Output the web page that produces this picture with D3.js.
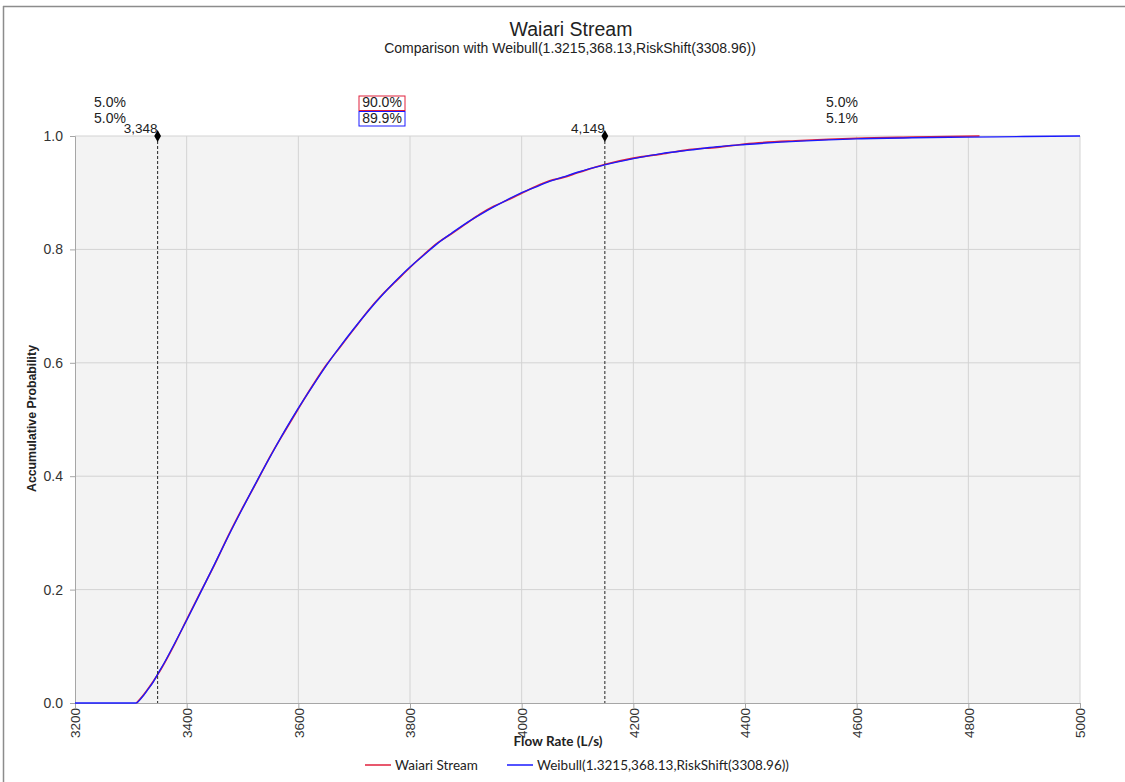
<!DOCTYPE html>
<html>
<head>
<meta charset="utf-8">
<script src="https://cdn.jsdelivr.net/npm/d3@7"></script>
<style>
  body { margin: 0; background: #fff; }
  svg text { font-family: "Liberation Sans", Arial, sans-serif; fill: #222; }
</style>
</head>
<body>
<div id="chart"></div>
<script>
// Flow rates (L/s) and cumulative probabilities
var fitFlow = [3200, 3309, 3320, 3330, 3340, 3350, 3360, 3380, 3400, 3425, 3450, 3475, 3500, 3525, 3550, 3575, 3600, 3625, 3650, 3675, 3700, 3725, 3750, 3775, 3800, 3825, 3850, 3875, 3900, 3925, 3950, 3975, 4000, 4025, 4050, 4075, 4100, 4149, 4200, 4250, 4300, 4350, 4400, 4500, 4600, 4700, 4800, 4900, 5000];
var fitProb = [0, 0, 0.010, 0.023, 0.037, 0.054, 0.071, 0.108, 0.146, 0.195, 0.245, 0.295, 0.343, 0.390, 0.435, 0.479, 0.520, 0.558, 0.595, 0.629, 0.661, 0.691, 0.719, 0.745, 0.769, 0.790, 0.811, 0.829, 0.846, 0.861, 0.875, 0.888, 0.900, 0.910, 0.920, 0.928, 0.936, 0.949, 0.960, 0.969, 0.975, 0.981, 0.985, 0.991, 0.995, 0.997, 0.998, 0.999, 1.0];

var streamFlow = [3310, 3320, 3330, 3340, 3350, 3360, 3380, 3400, 3425, 3450, 3475, 3500, 3525, 3550, 3575, 3600, 3625, 3650, 3675, 3700, 3725, 3750, 3775, 3800, 3825, 3850, 3875, 3900, 3925, 3950, 3975, 4000, 4025, 4050, 4075, 4100, 4150, 4200, 4250, 4300, 4350, 4400, 4500, 4600, 4700, 4760, 4820];
var streamProb = [0, 0.011, 0.024, 0.038, 0.053, 0.070, 0.107, 0.147, 0.196, 0.244, 0.296, 0.344, 0.389, 0.436, 0.478, 0.519, 0.559, 0.596, 0.628, 0.660, 0.692, 0.720, 0.744, 0.768, 0.791, 0.812, 0.828, 0.845, 0.862, 0.876, 0.887, 0.899, 0.911, 0.921, 0.927, 0.935, 0.950, 0.961, 0.968, 0.976, 0.980, 0.986, 0.992, 0.996, 0.998, 0.999, 1.0];

// percentile markers
var markerFlow = [3348, 4149];
var markerLabel = ["3,348", "4,149"];
var leftPct = ["5.0%", "5.0%"];
var midPct = ["90.0%", "89.9%"];
var rightPct = ["5.0%", "5.1%"];

var xTicks = [3200, 3400, 3600, 3800, 4000, 4200, 4400, 4600, 4800, 5000];
var yTicks = [0, 0.2, 0.4, 0.6, 0.8, 1.0];

var seriesNames = ["Waiari Stream", "Weibull(1.3215,368.13,RiskShift(3308.96))"];
var seriesColors = ["#e0203c", "#1a1aff"];

var width = 1125, height = 782;
var margin = { top: 136, right: 45, bottom: 79, left: 75 };
var plotW = width - margin.left - margin.right;
var plotH = height - margin.top - margin.bottom;

var svg = d3.select("#chart").append("svg")
    .attr("width", width)
    .attr("height", height);

// frame lines (top and left only)
svg.append("line").attr("x1", 3).attr("x2", width).attr("y1", 6.5).attr("y2", 6.5)
    .attr("stroke", "#8c8c8c").attr("stroke-width", 1.5);
svg.append("line").attr("x1", 3.5).attr("x2", 3.5).attr("y1", 6).attr("y2", height)
    .attr("stroke", "#8c8c8c").attr("stroke-width", 1.5);

// titles
svg.append("text").attr("x", 571).attr("y", 36).attr("text-anchor", "middle")
    .style("font-size", "19.5px").text("Waiari Stream");
svg.append("text").attr("x", 570).attr("y", 53).attr("text-anchor", "middle")
    .style("font-size", "14px").text("Comparison with Weibull(1.3215,368.13,RiskShift(3308.96))");

var x = d3.scaleLinear().domain([3200, 5000]).range([0, plotW]);
var y = d3.scaleLinear().domain([0, 1]).range([plotH, 0]);

var g = svg.append("g").attr("transform", "translate(" + margin.left + "," + margin.top + ")");

g.append("rect").attr("width", plotW).attr("height", plotH).attr("fill", "#f3f3f3");

// grid
g.selectAll(".vgrid").data(xTicks.slice(1)).enter().append("line")
    .attr("x1", function (d) { return x(d); }).attr("x2", function (d) { return x(d); })
    .attr("y1", 0).attr("y2", plotH)
    .attr("stroke", "#d3d3d3");
g.selectAll(".hgrid").data(yTicks.slice(1)).enter().append("line")
    .attr("x1", 0).attr("x2", plotW)
    .attr("y1", function (d) { return y(d); }).attr("y2", function (d) { return y(d); })
    .attr("stroke", "#d3d3d3");

// axes
var xAxis = g.append("g").attr("transform", "translate(0," + plotH + ")")
    .call(d3.axisBottom(x).tickValues(xTicks).tickFormat(d3.format("d")).tickSize(5));
xAxis.selectAll("text")
    .attr("transform", "rotate(-90)")
    .attr("x", -5).attr("y", 0).attr("dy", "0.35em")
    .style("text-anchor", "end").style("font-size", "13.5px").style("fill", "#333");

var yAxis = g.append("g")
    .call(d3.axisLeft(y).tickValues(yTicks).tickFormat(d3.format(".1f")).tickSize(5));
yAxis.selectAll("text").style("font-size", "14px").style("fill", "#333").attr("x", -12);

[xAxis, yAxis].forEach(function (a) {
    a.select(".domain").attr("stroke", "#a6a6a6");
    a.selectAll(".tick line").attr("stroke", "#a6a6a6");
});

// axis titles
svg.append("text").attr("transform", "translate(36," + (margin.top + plotH / 2 - 1) + ") rotate(-90)")
    .attr("text-anchor", "middle").style("font-size", "12.3px").style("font-weight", "bold")
    .text("Accumulative Probability");
svg.append("text").attr("x", 558).attr("y", 746).attr("text-anchor", "middle")
    .style("font-size", "13.5px").style("font-weight", "bold")
    .style("font-family", "Lato, 'Open Sans', sans-serif").text("Flow Rate (L/s)");

// curves
var line = d3.line()
    .x(function (d) { return x(d[0]); })
    .y(function (d) { return y(d[1]); })
    .curve(d3.curveMonotoneX);

g.append("path").datum(d3.zip(streamFlow, streamProb))
    .attr("d", line).attr("fill", "none")
    .attr("stroke", seriesColors[0]).attr("stroke-width", 1.6);
g.append("path").datum(d3.zip(fitFlow, fitProb))
    .attr("d", line).attr("fill", "none")
    .attr("stroke", seriesColors[1]).attr("stroke-width", 1.4);

// percentile markers
g.selectAll(".mline").data(markerFlow).enter().append("line")
    .attr("x1", function (d) { return x(d); }).attr("x2", function (d) { return x(d); })
    .attr("y1", 0).attr("y2", plotH)
    .attr("stroke", "#222").attr("stroke-width", 1).attr("stroke-dasharray", "3,2");
g.selectAll(".mdot").data(markerFlow).enter().append("path")
    .attr("d", d3.symbol().type(d3.symbolDiamond).size(40))
    .attr("transform", function (d) { return "translate(" + x(d) + ",0)"; })
    .attr("fill", "#000");
g.selectAll(".mlabel").data(markerFlow).enter().append("text")
    .attr("x", function (d) { return x(d) + 0; }).attr("y", -3)
    .attr("text-anchor", "end").style("font-size", "13.5px")
    .text(function (d, i) { return markerLabel[i]; });

// percentage labels above plot
function pctPair(cx, vals, boxed) {
    vals.forEach(function (v, i) {
        var ty = 107 + i * 15.5;
        if (boxed) {
            svg.append("rect").attr("x", cx - 23).attr("y", ty - 11)
                .attr("width", 46).attr("height", 14.5)
                .attr("fill", "none").attr("stroke", seriesColors[i]).attr("stroke-width", 1);
        }
        svg.append("text").attr("x", cx).attr("y", ty).attr("text-anchor", "middle")
            .style("font-size", "14px").text(v);
    });
}
pctPair(110, leftPct, false);
pctPair(382, midPct, true);
pctPair(842, rightPct, false);

// legend
var legend = svg.append("g").attr("transform", "translate(0,765)");
var legendX = [365, 507];
seriesNames.forEach(function (name, i) {
    legend.append("line").attr("x1", legendX[i]).attr("x2", legendX[i] + 26)
        .attr("y1", 0).attr("y2", 0)
        .attr("stroke", seriesColors[i]).attr("stroke-width", 1.5);
    legend.append("text").attr("x", legendX[i] + 30).attr("y", 4.5)
        .style("font-size", "13.5px").style("font-family", "Lato, 'Open Sans', sans-serif")
        .text(name);
});
</script>
</body>
</html>
